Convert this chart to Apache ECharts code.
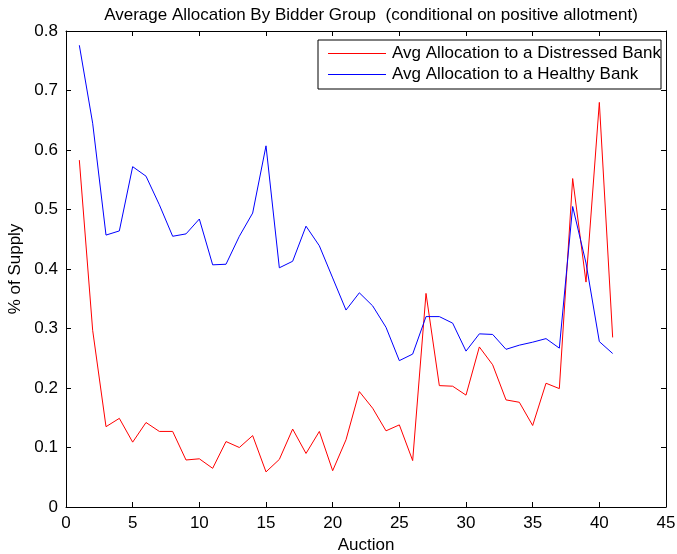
<!DOCTYPE html>
<html>
<head>
<meta charset="utf-8">
<script src="https://cdn.jsdelivr.net/npm/echarts@6/dist/echarts.min.js"></script>
<style>
  html, body { margin: 0; padding: 0; background: #fff; }
  #main { width: 677px; height: 554px; }
</style>
</head>
<body>
<div id="main"></div>
<script>
var chartDom = document.getElementById('main');
var myChart = echarts.init(chartDom, null);
var option;

// auction numbers 1..41
var auctions = [1,2,3,4,5,6,7,8,9,10,11,12,13,14,15,16,17,18,19,20,21,22,23,24,25,26,27,28,29,30,31,32,33,34,35,36,37,38,39,40,41];

var distressed = [0.583,0.297,0.135,0.149,0.109,0.142,0.127,0.127,0.079,0.081,
  0.065,0.110,0.100,0.120,0.059,0.080,0.131,0.090,0.127,0.061,
  0.113,0.194,0.166,0.128,0.138,0.078,0.359,0.204,0.203,0.188,
  0.269,0.239,0.180,0.176,0.137,0.208,0.199,0.552,0.378,0.680,0.285];

var healthy = [0.776,0.645,0.457,0.464,0.572,0.556,0.508,0.455,0.459,0.484,
  0.407,0.408,0.455,0.494,0.607,0.402,0.413,0.472,0.439,0.385,
  0.331,0.360,0.338,0.302,0.246,0.257,0.320,0.320,0.309,0.262,
  0.291,0.290,0.265,0.272,0.277,0.283,0.267,0.505,0.410,0.278,0.258];

var seriesNames = ['Avg Allocation to a Distressed Bank', 'Avg Allocation to a Healthy Bank'];

function pairs(ys) {
  return ys.map(function (y, i) { return [auctions[i], y]; });
}

var font = 'Liberation Sans';
var fs = 17;
var axisCommon = {
  axisLine: { show: true, onZero: false, lineStyle: { color: '#000', width: 1 } },
  axisTick: { show: true, inside: true, length: 5, lineStyle: { color: '#000' } },
  splitLine: { show: false },
  axisLabel: { color: '#000', fontSize: fs, fontFamily: font, margin: 8 }
};

option = {
  animation: false,
  backgroundColor: '#fff',
  textStyle: { fontFamily: font },
  title: {
    text: 'Average Allocation By Bidder Group  (conditional on positive allotment)',
    left: 366, top: 2, textAlign: 'center',
    textStyle: { fontSize: fs, fontWeight: 'normal', color: '#000', fontFamily: font }
  },
  legend: {
    data: seriesNames,
    orient: 'vertical',
    right: 16, top: 40,
    padding: [5, 0, 6, 10],
    itemGap: 4,
    itemWidth: 58,
    itemHeight: 22,
    icon: 'path://M0,0 H58 V1 H0 Z',
    borderColor: '#000', borderWidth: 1,
    backgroundColor: '#fff',
    textStyle: { fontSize: fs, color: '#000', fontFamily: font, padding: [0, 0, 0, 1] }
  },
  grid: { left: 66, right: 11, top: 31, bottom: 47, outerBoundsMode: 'none', containLabel: false },
  xAxis: [
    Object.assign({}, axisCommon, {
      type: 'value', min: 0, max: 45, interval: 5,
      name: 'Auction', nameLocation: 'middle', nameGap: 26,
      nameTextStyle: { fontSize: fs, color: '#000', fontFamily: font }
    }),
    Object.assign({}, axisCommon, {
      type: 'value', min: 0, max: 45, interval: 5, position: 'top',
      axisLabel: { show: false }
    })
  ],
  yAxis: [
    Object.assign({}, axisCommon, {
      type: 'value', min: 0, max: 0.8, interval: 0.1,
      name: '% of Supply', nameLocation: 'middle', nameGap: 40, nameRotate: 90,
      nameTextStyle: { fontSize: fs, color: '#000', fontFamily: font },
      axisLabel: { color: '#000', fontSize: fs, fontFamily: font, margin: 8,
        formatter: function (v) { return v === 0 ? '0' : v.toFixed(1); } }
    }),
    Object.assign({}, axisCommon, {
      type: 'value', min: 0, max: 0.8, interval: 0.1, position: 'right',
      axisLabel: { show: false }
    })
  ],
  series: [
    {
      name: seriesNames[0], type: 'line', data: pairs(distressed),
      symbol: 'none', color: '#ff0000', lineStyle: { color: '#ff0000', width: 1 }
    },
    {
      name: seriesNames[1], type: 'line', data: pairs(healthy),
      symbol: 'none', color: '#0000ff', lineStyle: { color: '#0000ff', width: 1 }
    }
  ]
};

myChart.setOption(option);
</script>
</body>
</html>
